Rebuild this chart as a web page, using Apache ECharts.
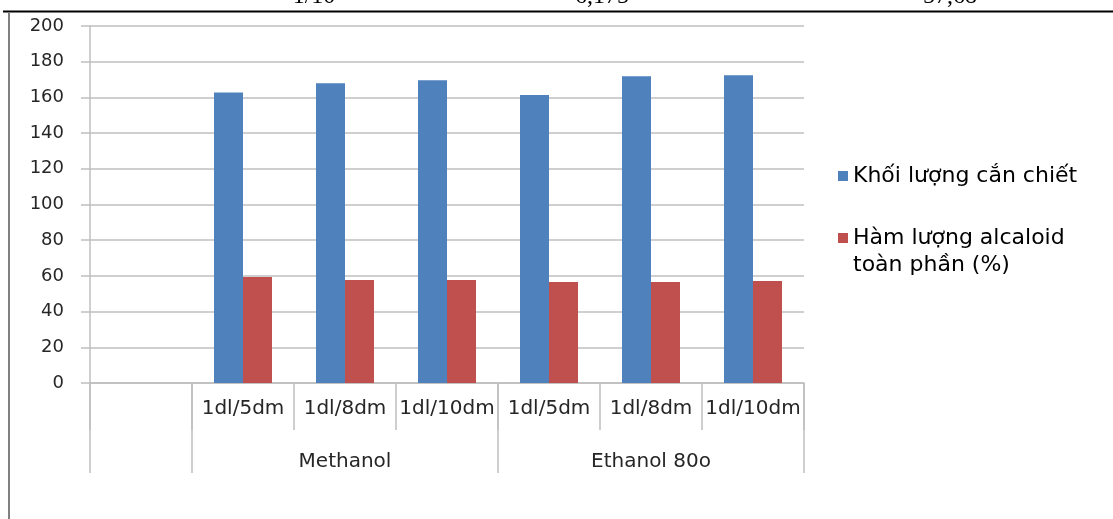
<!DOCTYPE html>
<html>
<head>
<meta charset="utf-8">
<script src="https://cdn.jsdelivr.net/npm/echarts@6/dist/echarts.min.js"></script>
<style>
html,body{margin:0;padding:0;background:#fff;}
#chart{width:1113px;height:519px;}
</style>
</head>
<body>
<div id="chart"></div>
<script>
// ---- data ----
var categories = ['', '1dl/5dm', '1dl/8dm', '1dl/10dm', '1dl/5dm', '1dl/8dm', '1dl/10dm'];
var groupNames = ['', 'Methanol', 'Ethanol 80o'];
var groupSpans = [1, 3, 3];
var seriesNames = ['Khối lượng cắn chiết', 'Hàm lượng alcaloid toàn phần (%)'];
var massValues = [null, 162.7, 167.9, 169.6, 161.3, 171.8, 172.4];
var alkaloidValues = [null, 59.4, 57.7, 57.7, 56.6, 56.6, 57.1];
var topTexts = ['1/10', '6,175', '57,68'];

var gridColor = '#bfbfbf';
var labelColor = '#262626';
var tickFont = '"DejaVu Sans", Verdana, sans-serif';
var legendFont = '"DejaVu Sans", Arial, sans-serif';

var chart = echarts.init(document.getElementById('chart'), null, {renderer: 'canvas'});

var option = {
  animation: false,
  backgroundColor: '#ffffff',
  grid: {left: 90, right: 309, top: 26, bottom: 136, containLabel: false},
  legend: [
    {
      data: [seriesNames[0]], orient: 'vertical', left: 838, top: 162.5, padding: 0,
      itemWidth: 10, itemHeight: 10, itemGap: 0, icon: 'rect',
      textStyle: {fontFamily: legendFont, fontSize: 22, color: '#000', lineHeight: 27}
    },
    {
      data: [seriesNames[1]], orient: 'vertical', left: 838, top: 197.5, padding: 0,
      itemWidth: 10, itemHeight: 10, itemGap: 0, icon: 'rect',
      formatter: function () { return '\nHàm lượng alcaloid\ntoàn phần (%)'; },
      textStyle: {fontFamily: legendFont, fontSize: 22, color: '#000', lineHeight: 27}
    }
  ],
  xAxis: {
    type: 'category',
    data: categories,
    boundaryGap: true,
    axisLine: {show: true, lineStyle: {color: gridColor, width: 1.5}},
    axisTick: {show: true, interval: 0, length: 47, lineStyle: {color: gridColor, width: 1.5}},
    axisLabel: {interval: 0, fontFamily: tickFont, fontSize: 20, color: labelColor, margin: 16}
  },
  yAxis: {
    type: 'value',
    min: 0, max: 200, interval: 20,
    axisLine: {show: true, lineStyle: {color: gridColor, width: 1.5}},
    axisTick: {show: true, inside: false, length: 9, lineStyle: {color: gridColor, width: 1.5}},
    splitLine: {show: true, lineStyle: {color: gridColor, width: 1.5}},
    axisLabel: {fontFamily: tickFont, fontSize: 18, color: labelColor, margin: 26}
  },
  series: [
    {name: seriesNames[0], type: 'bar', data: massValues, barWidth: 29, barGap: '0%',
     itemStyle: {color: '#4f81bd'}},
    {name: seriesNames[1], type: 'bar', data: alkaloidValues, barWidth: 29, barGap: '0%',
     itemStyle: {color: '#c0504d'}}
  ]
};
chart.setOption(option);

// second-level category labels and separators, positioned via the axis scale
var c0 = chart.convertToPixel({xAxisIndex: 0}, 0);
var c1 = chart.convertToPixel({xAxisIndex: 0}, 1);
var band = c1 - c0;
var y0 = chart.convertToPixel({yAxisIndex: 0}, 0);
var graphics = [];
var idx = 0;
var boundaries = [0];
for (var g = 0; g < groupSpans.length; g++) { idx += groupSpans[g]; boundaries.push(idx); }
boundaries.forEach(function (b) {
  var x = chart.convertToPixel({xAxisIndex: 0}, Math.min(b, categories.length - 1)) + (b >= categories.length ? band / 2 : -band / 2);
  graphics.push({type: 'line', silent: true,
    shape: {x1: x, y1: y0, x2: x, y2: y0 + 90},
    style: {stroke: gridColor, lineWidth: 1.5}});
});
for (var g2 = 0; g2 < groupNames.length; g2++) {
  if (!groupNames[g2]) continue;
  var start = boundaries[g2], end = boundaries[g2 + 1];
  var xs = chart.convertToPixel({xAxisIndex: 0}, start) - band / 2;
  var xe = chart.convertToPixel({xAxisIndex: 0}, end - 1) + band / 2;
  graphics.push({type: 'text', silent: true, x: (xs + xe) / 2, y: y0 + 79,
    style: {text: groupNames[g2], fontFamily: tickFont, fontSize: 20, fill: labelColor,
      align: 'center', verticalAlign: 'middle'}});
}
// frame and clipped table text above
var topX = [314, 602, 950];
topTexts.forEach(function (t, i) {
  graphics.push({type: 'text', silent: true, x: topX[i], y: -3,
    style: {text: t, fontFamily: '"Liberation Serif", "DejaVu Serif", serif', fontSize: 24,
      fill: '#000', align: 'center', verticalAlign: 'middle'}});
});
graphics.push({type: 'line', silent: true, shape: {x1: 3, y1: 11.5, x2: 1113, y2: 11.5},
  style: {stroke: '#000', lineWidth: 2}});
graphics.push({type: 'line', silent: true, shape: {x1: 9, y1: 12, x2: 9, y2: 519},
  style: {stroke: '#808080', lineWidth: 2}});
chart.setOption({graphic: graphics});
</script>
</body>
</html>
